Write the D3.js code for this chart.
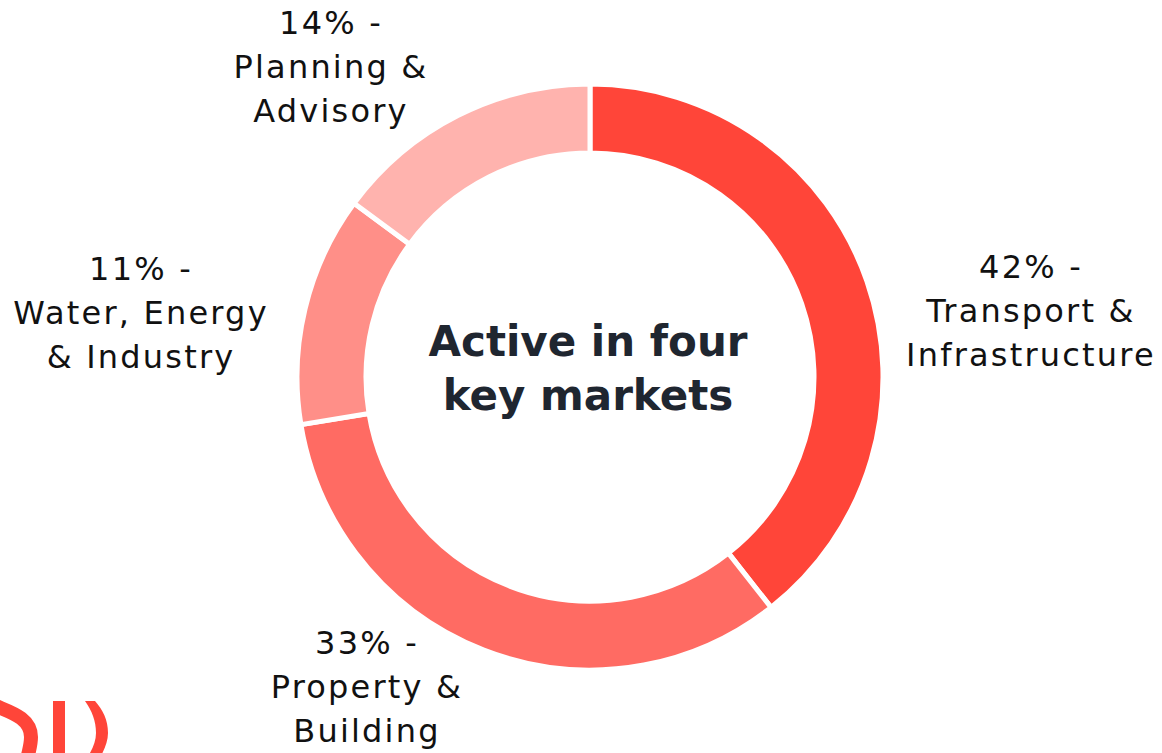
<!DOCTYPE html>
<html>
<head>
<meta charset="utf-8">
<script src="https://cdn.jsdelivr.net/npm/d3@7/dist/d3.min.js"></script>
<style>
  html, body { margin: 0; padding: 0; background: #fff; }
  svg { display: block; }
  .lbl { font-family: "DejaVu Sans", sans-serif; font-size: 32px; fill: #111; letter-spacing: 2.2px; }
  .title { font-family: "DejaVu Sans", sans-serif; font-weight: bold; font-size: 42px; fill: #1f2630; }
</style>
</head>
<body>
<div id="chart"></div>
<script>
// market shares as drawn (slice sizes) and the labels shown next to them
var markets = ["Transport & Infrastructure", "Property & Building", "Water, Energy & Industry", "Planning & Advisory"];
var shares = [39.4, 33.0, 12.7, 14.9];
var pctLabels = ["42% -", "33% -", "11% -", "14% -"];
var labelLines = [
  ["Transport &", "Infrastructure"],
  ["Property &", "Building"],
  ["Water, Energy", "& Industry"],
  ["Planning &", "Advisory"]
];
var colors = ["#ff4539", "#ff6b63", "#ff8f88", "#ffb3ae"];
var titleLines = ["Active in four", "key markets"];

var width = 1162, height = 753,
    cx = 590, cy = 377,
    outerR = 293, innerR = 224;

// label block anchors (centre x, first baseline y)
var labelPos = [[1031, 278], [367, 654], [141, 280], [331, 34]];
var lineGap = 44;

var svg = d3.select("#chart").append("svg")
    .attr("width", width)
    .attr("height", height);

var pie = d3.pie().sort(null).value(function(d) { return d; });
var arc = d3.arc().innerRadius(innerR).outerRadius(outerR);

var g = svg.append("g").attr("transform", "translate(" + cx + "," + cy + ")");

g.selectAll(".slice")
    .data(pie(shares))
  .enter().append("path")
    .attr("class", "slice")
    .attr("d", arc)
    .style("fill", function(d, i) { return colors[i]; })
    .style("stroke", "#fff")
    .style("stroke-width", 5);

// centre title
svg.append("text")
    .attr("class", "title")
    .attr("text-anchor", "middle")
    .selectAll("tspan")
    .data(titleLines)
  .enter().append("tspan")
    .attr("x", cx - 2)
    .attr("y", function(d, i) { return 356 + i * 54; })
    .text(function(d) { return d; });

// outside labels
var labels = svg.selectAll(".lbl")
    .data(markets)
  .enter().append("text")
    .attr("class", "lbl")
    .attr("text-anchor", "middle");

labels.selectAll("tspan")
    .data(function(d, i) {
      return [pctLabels[i]].concat(labelLines[i]).map(function(t) { return { t: t, i: i }; });
    })
  .enter().append("tspan")
    .attr("x", function(d) { return labelPos[d.i][0]; })
    .attr("y", function(d, j) { return labelPos[d.i][1] + j * lineGap; })
    .text(function(d) { return d.t; });

// partial logo, bottom-left corner (cropped by the page edge)
var logo = svg.append("g");
logo.append("path")
    .attr("d", "M-4,706 C10,712 31,718 31,737 C31,745 29,750 27,760")
    .style("fill", "none")
    .style("stroke", "#ff4539")
    .style("stroke-width", 14);
logo.append("rect")
    .attr("x", 53).attr("y", 701)
    .attr("width", 12).attr("height", 60)
    .style("fill", "#ff4539");
logo.append("path")
    .attr("d", "M85,701 L95,701 C103,710 108,720 108,733 C108,742 104,750 99,760 L86,760 C92,750 96,742 96,733 C96,721 92,711 85,701 Z")
    .style("fill", "#ff4539");
</script>
</body>
</html>
